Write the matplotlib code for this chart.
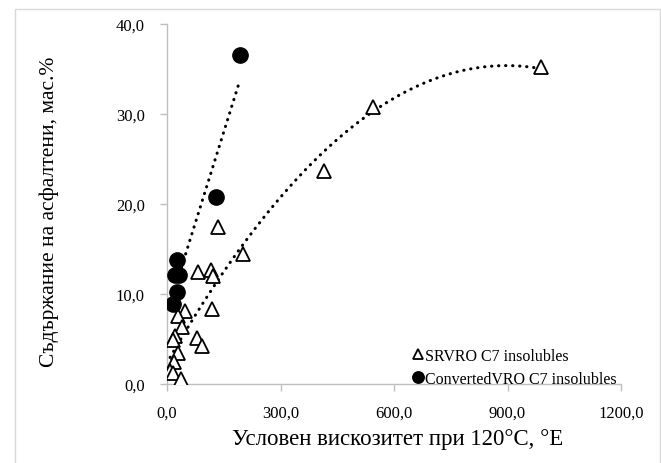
import numpy as np
import matplotlib.pyplot as plt
from matplotlib.patches import Rectangle

plt.rcParams['font.family'] = ['Liberation Serif', 'DejaVu Serif']

# SRVRO C7 insolubles (triangles)
srv_x = [989, 545, 415, 135, 201, 82, 116, 122, 119, 48, 29, 40, 21, 16, 79, 93, 29, 19, 8, 16, 37]
srv_y = [35.2, 30.8, 23.7, 17.4, 14.4, 12.4, 12.7, 12.0, 8.3, 8.1, 7.6, 6.3, 5.3, 4.9, 5.1, 4.2, 3.4, 2.4, 1.4, 1.2, 0.6]

# ConvertedVRO C7 insolubles (circles)
conv_x = [193, 130, 26, 20, 33, 26, 16]
conv_y = [36.6, 20.8, 13.8, 12.1, 12.1, 10.2, 8.9]

x_ticks = [0, 300, 600, 900, 1200]
y_ticks = [0, 10, 20, 30, 40]

W, H = 661, 464
fig = plt.figure(figsize=(W / 100, H / 100), dpi=100)
ax = fig.add_axes([167 / W, 1 - 385 / H, (621 - 167) / W, (385 - 25) / H])

# chart frame
fig.patches.append(Rectangle((15 / W, -0.01), 645 / W, 1 - 10 / H + 0.01,
                             transform=fig.transFigure, fill=False,
                             edgecolor='#d9d9d9', linewidth=1.0))

# trend lines (excel style: poly2 for SRVRO, linear for converted)
c2 = np.polyfit(srv_x, srv_y, 2)
xs = np.linspace(min(srv_x), max(srv_x), 300)
ax.plot(xs, np.polyval(c2, xs), color='black', linestyle=(0, (0.1, 2.2)),
        linewidth=2.2, dash_capstyle='round', zorder=2)

c1 = np.polyfit(conv_x, conv_y, 1)
xl = np.linspace(min(conv_x), max(conv_x), 100)
ax.plot(xl, np.polyval(c1, xl), color='black', linestyle=(0, (0.1, 2.2)),
        linewidth=2.2, dash_capstyle='round', zorder=2)

ax.plot(srv_x, srv_y, linestyle='none', marker='^', markersize=10,
        markerfacecolor='white', markeredgecolor='black', markeredgewidth=1.3,
        label='SRVRO C7 insolubles', zorder=3)
ax.plot(conv_x, conv_y, linestyle='none', marker='o', markersize=11,
        markerfacecolor='black', markeredgecolor='black',
        label='ConvertedVRO C7 insolubles', zorder=4)

ax.set_xlim(0, 1200)
ax.set_ylim(0, 40)
ax.set_xticks(x_ticks)
ax.set_yticks(y_ticks)
ax.set_xticklabels([f'{v:.1f}'.replace('.', ',') for v in x_ticks], fontsize=12)
ax.set_yticklabels([f'{v:.1f}'.replace('.', ',') for v in y_ticks], fontsize=12)

for s in ['top', 'right']:
    ax.spines[s].set_visible(False)
for s in ['left', 'bottom']:
    ax.spines[s].set_color('#bfbfbf')
    ax.spines[s].set_linewidth(1.0)
ax.tick_params(axis='both', direction='out', length=5, color='#bfbfbf',
               width=1.0, labelcolor='black')
ax.tick_params(axis='x', pad=10)
ax.tick_params(axis='y', pad=11)

fig.text(398 / W, 1 - 440 / H, 'Условен вискозитет при 120°C, °E',
         fontsize=16.5, ha='center', va='center')
fig.text(49 / W, 1 - 212 / H, 'Съдържание на асфалтени, мас.%',
         fontsize=15.5, ha='center', va='center', rotation=90)

ax.legend(loc='center left', bbox_to_anchor=(0.525, 0.046), frameon=False,
          fontsize=11.5, handlelength=0.6, handletextpad=0.1,
          borderpad=0.0, labelspacing=0.45, markerscale=0.75)

fig.savefig('out.png', dpi=100)
